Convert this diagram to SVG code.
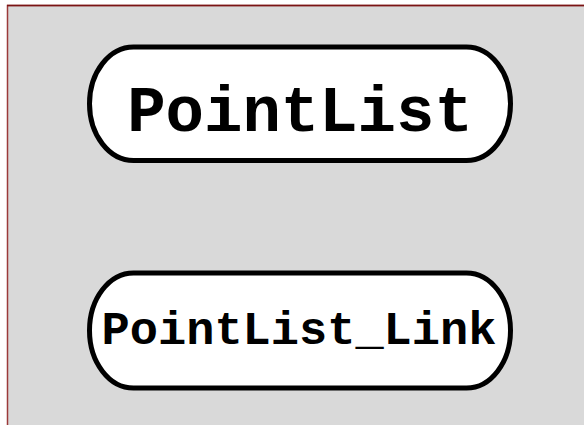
<svg xmlns="http://www.w3.org/2000/svg" width="584" height="425" viewBox="0 0 584 425">
<style>
.node rect{fill:#ffffff;stroke:#000000;stroke-width:5}
.node text{font-family:"Liberation Mono","Courier New",monospace;font-weight:bold;fill:#000000;text-anchor:middle}
</style>
<rect x="0" y="0" width="584" height="425" fill="#ffffff"/>
<rect x="7.5" y="5.5" width="580" height="425" fill="#d9d9d9" stroke="#9b3a3a" stroke-width="1.5"/>
<line x1="7" y1="5.5" x2="584" y2="5.5" stroke="#7a1414" stroke-width="1.5"/>
<g id="connectors"></g>
<g id="PointList" class="node">
<rect x="89.5" y="47" width="421" height="113.5" rx="44" ry="57"/>
<text x="300" y="131" font-size="64">PointList</text>
</g>
<g id="PointList_Link" class="node">
<rect x="89.5" y="273" width="421" height="115" rx="44" ry="57.5"/>
<text x="299" y="344" font-size="47">PointList_Link</text>
</g>
</svg>
